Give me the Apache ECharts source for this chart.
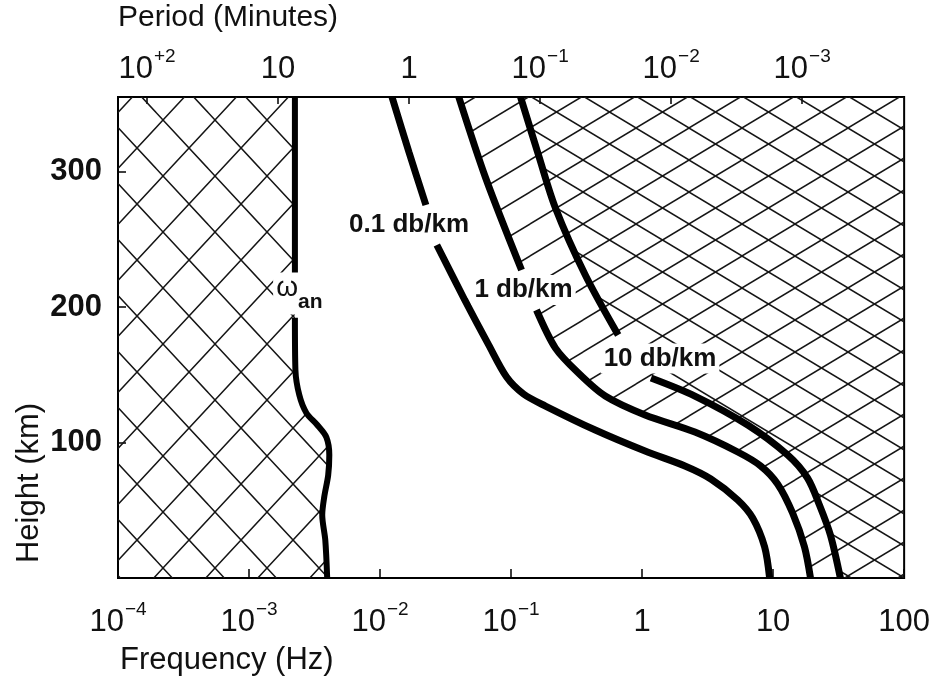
<!DOCTYPE html>
<html>
<head>
<meta charset="utf-8">
<script src="https://cdn.jsdelivr.net/npm/echarts@6/dist/echarts.min.js"></script>
<style>
html,body{margin:0;padding:0;background:#fff;}
#chart{width:933px;height:683px;}
</style>
</head>
<body>
<div id="chart"></div>
<script>
// Axis ranges: frequency in Hz (log), height in km
const FREQ_MIN = 1e-4;
const FREQ_MAX = 100;
const HEIGHT_MIN = 0;
const HEIGHT_MAX = 355;
const HEIGHT_STEP = 100;

// Acoustic cut-off frequency (omega_an) versus height: [Hz, km]
const omegaAnUpper = [[2.24e-3, 355], [2.24e-3, 225]];
const omegaAnLower = [[2.24e-3, 192], [2.26e-3, 153.5], [2.42e-3, 135], [2.74e-3, 121.8],
  [3.32e-3, 112.9], [3.89e-3, 104], [4.10e-3, 90.8], [4.02e-3, 76], [3.75e-3, 59.8],
  [3.62e-3, 46.5], [3.82e-3, 28], [3.95e-3, 0]];

// Attenuation contour 0.1 db/km
const att01Upper = [[0.01234, 355], [0.01661, 314.4], [0.02238, 275.3]];
const att01Lower = [[0.02713, 245.8], [0.04429, 205.2], [0.06745, 172], [0.09243, 148.3],
  [0.1245, 135.8], [0.183, 126.9], [0.4391, 109.2], [1.054, 93.7], [2.123, 82.7],
  [3.347, 73.1], [5.37, 57.6], [6.985, 44.3], [8.617, 22.9], [9.406, 0]];

// Attenuation contour 1 db/km
const att1Upper = [[0.03989, 355], [0.064, 295.2], [0.1202, 227.3]];
const att1Lower = [[0.1563, 197.8], [0.2181, 169.7], [0.3262, 151.3], [0.5232, 134.3],
  [1.054, 120.3], [2.529, 107.7], [5.37, 93], [8.035, 82.7], [10.82, 69.4],
  [14.07, 48], [17.36, 22.9], [19.29, 0]];

// Attenuation contour 10 db/km
const att10Upper = [[0.1181, 355], [0.1619, 312.2], [0.2181, 273.1], [0.3685, 223.6], [0.6568, 179.3]];
const att10Lower = [[1.17, 147.6], [2.529, 134.3], [6.399, 112.9], [12.89, 90.8],
  [18.3, 73.8], [22.57, 53.9], [27.37, 31.7], [32.61, 0]];

// Curve labels and where they sit (data coordinates)
const curveLabelText = ['{w|ω}{s|an}', '0.1 db/km', '1 db/km', '10 db/km'];
const curveLabelAnchor = [[2.42e-3, 210], [0.01665, 260.5], [0.1245, 212.5], [1.37, 162]];

const FONT = '"Liberation Sans", Arial, Helvetica, sans-serif';
const INK = '#111';

function expLabel(e, plusSign) {
  if (e === 0) return '{b|1}';
  if (e === 1) return '{b|10}';
  if (e > 1 && !plusSign) return '{b|' + Math.pow(10, e) + '}';
  const sign = e < 0 ? '−' : '+';
  return '{b|10}{s|' + sign + Math.abs(e) + '}';
}

const tickRich = {
  b: { fontFamily: FONT, fontSize: 31, color: INK, lineHeight: 38, verticalAlign: 'bottom' },
  s: { fontFamily: FONT, fontSize: 19, color: INK, lineHeight: 38, verticalAlign: 'top', padding: [0, 0, 0, 1] }
};

// Hatch tiles drawn on small canvases and used as repeating fills
function hatchTile(w, h, dirs, lw, ox, oy) {
  const c = document.createElement('canvas');
  c.width = w; c.height = h;
  const ctx = c.getContext('2d');
  ctx.strokeStyle = '#151515';
  ctx.lineWidth = lw;
  for (let i = -1; i <= 1; i++) {
    for (let j = -1; j <= 1; j++) {
      const dx = i * w + ox, dy = j * h + oy;
      ctx.beginPath();
      if (dirs.indexOf('/') >= 0) { ctx.moveTo(dx, dy + h); ctx.lineTo(dx + w, dy); }
      if (dirs.indexOf('\\') >= 0) { ctx.moveTo(dx, dy); ctx.lineTo(dx + w, dy + h); }
      ctx.stroke();
    }
  }
  return { image: c, repeat: 'repeat' };
}

const crossLow = hatchTile(52, 56, '/\\', 1.5, 7, 8);
const risingHigh = hatchTile(53, 32, '/', 1.5, 0, 0);
const fallingHigh = hatchTile(53, 32, '\\', 1.5, 0, 0);

const omegaAll = omegaAnUpper.concat(omegaAnLower);
const att1All = att1Upper.concat(att1Lower);
const att10All = att10Upper.concat(att10Lower);

const regionLeft = [[FREQ_MIN, HEIGHT_MAX]].concat(omegaAll, [[FREQ_MIN, HEIGHT_MIN]]);
const regionRight1 = att1All.concat([[FREQ_MAX, HEIGHT_MIN], [FREQ_MAX, HEIGHT_MAX]]);
const regionRight10 = att10All.concat([[FREQ_MAX, HEIGHT_MIN], [FREQ_MAX, HEIGHT_MAX]]);

function regionSeries(points, fill) {
  return {
    type: 'custom',
    coordinateSystem: 'cartesian2d',
    xAxisIndex: 0, yAxisIndex: 0,
    silent: true,
    clip: true,
    z: 1,
    data: points,
    renderItem: function (params, api) {
      if (params.dataIndex !== 0) return null;
      return {
        type: 'polygon',
        shape: { points: points.map(function (p) { return api.coord(p); }) },
        style: { fill: fill, stroke: null }
      };
    }
  };
}

function curveSeries(data, width) {
  return {
    type: 'line', data: data, xAxisIndex: 0, yAxisIndex: 0,
    symbol: 'none', smooth: 0.3, silent: true, z: 3,
    lineStyle: { color: '#000', width: width, cap: 'butt' }
  };
}

// Curve annotations, drawn as text on a white box at their anchor points
const labelSeries = {
  type: 'custom',
  coordinateSystem: 'cartesian2d',
  xAxisIndex: 0, yAxisIndex: 0,
  silent: true, clip: false, z: 5,
  data: curveLabelAnchor,
  renderItem: function (params, api) {
    const p = api.coord([api.value(0), api.value(1)]);
    return {
      type: 'text', x: p[0], y: p[1],
      style: {
        text: curveLabelText[params.dataIndex],
        fill: INK, fontFamily: FONT, fontSize: 26, fontWeight: 'bold',
        align: 'center', verticalAlign: 'middle',
        backgroundColor: '#fff', padding: [2, 3, 2, 3],
        rich: {
          w: { fontFamily: FONT, fontSize: 28, fill: INK, lineHeight: 30, verticalAlign: 'top' },
          s: { fontFamily: FONT, fontSize: 21, fontWeight: 'bold', fill: INK, lineHeight: 38, verticalAlign: 'bottom' }
        }
      }
    };
  }
};

const chart = echarts.init(document.getElementById('chart'), null, { renderer: 'canvas' });

chart.setOption({
  animation: false,
  backgroundColor: '#fff',
  grid: { left: 118, right: 26, top: 97, bottom: 105, show: true, borderColor: '#000', borderWidth: 2, backgroundColor: 'transparent' },
  xAxis: [
    {
      type: 'log', logBase: 10, min: FREQ_MIN, max: FREQ_MAX, position: 'bottom',
      axisLine: { show: false },
      axisTick: { inside: true, length: 9, lineStyle: { color: '#000', width: 1.5 } },
      splitLine: { show: false },
      axisLabel: {
        margin: 22, color: INK,
        formatter: function (v) { return expLabel(Math.round(Math.log10(v)), false); },
        rich: tickRich
      }
    },
    {
      // Period in minutes: P = 1 / (60 f)
      type: 'log', logBase: 10, min: 1 / (60 * FREQ_MAX), max: 1 / (60 * FREQ_MIN), inverse: true, position: 'top',
      axisLine: { show: false },
      axisTick: { inside: true, length: 7, lineStyle: { color: '#000', width: 1.5 } },
      splitLine: { show: false },
      axisLabel: {
        margin: 12, color: INK, showMinLabel: false, showMaxLabel: false,
        formatter: function (v) { return expLabel(Math.round(Math.log10(v)), true); },
        rich: tickRich
      }
    }
  ],
  yAxis: {
    type: 'value', min: HEIGHT_MIN, max: HEIGHT_MAX, interval: HEIGHT_STEP,
    axisLine: { show: false },
    axisTick: { inside: true, length: 8, lineStyle: { color: '#000', width: 1.5 } },
    splitLine: { show: false },
    axisLabel: {
      margin: 16, fontFamily: FONT, fontSize: 31, fontWeight: 'bold', color: INK,
      showMinLabel: false, showMaxLabel: false
    }
  },
  graphic: [
    { type: 'text', left: 118, top: 3, style: { text: 'Period (Minutes)', font: '30px ' + FONT, fill: INK } },
    { type: 'text', left: 120, top: 645, style: { text: 'Frequency (Hz)', font: '31px ' + FONT, fill: INK } },
    { type: 'text', x: 29, y: 483, rotation: Math.PI / 2, style: { text: 'Height (km)', font: '31px ' + FONT, fill: INK, textAlign: 'center', textVerticalAlign: 'middle' } }
  ],
  series: [
    regionSeries(regionLeft, crossLow),
    regionSeries(regionRight1, risingHigh),
    regionSeries(regionRight10, fallingHigh),
    curveSeries(omegaAnUpper, 6),
    curveSeries(omegaAnLower, 6),
    curveSeries(att01Upper, 7),
    curveSeries(att01Lower, 7),
    curveSeries(att1Upper, 7),
    curveSeries(att1Lower, 7),
    curveSeries(att10Upper, 7),
    curveSeries(att10Lower, 7),
    labelSeries
  ]
});
</script>
</body>
</html>
